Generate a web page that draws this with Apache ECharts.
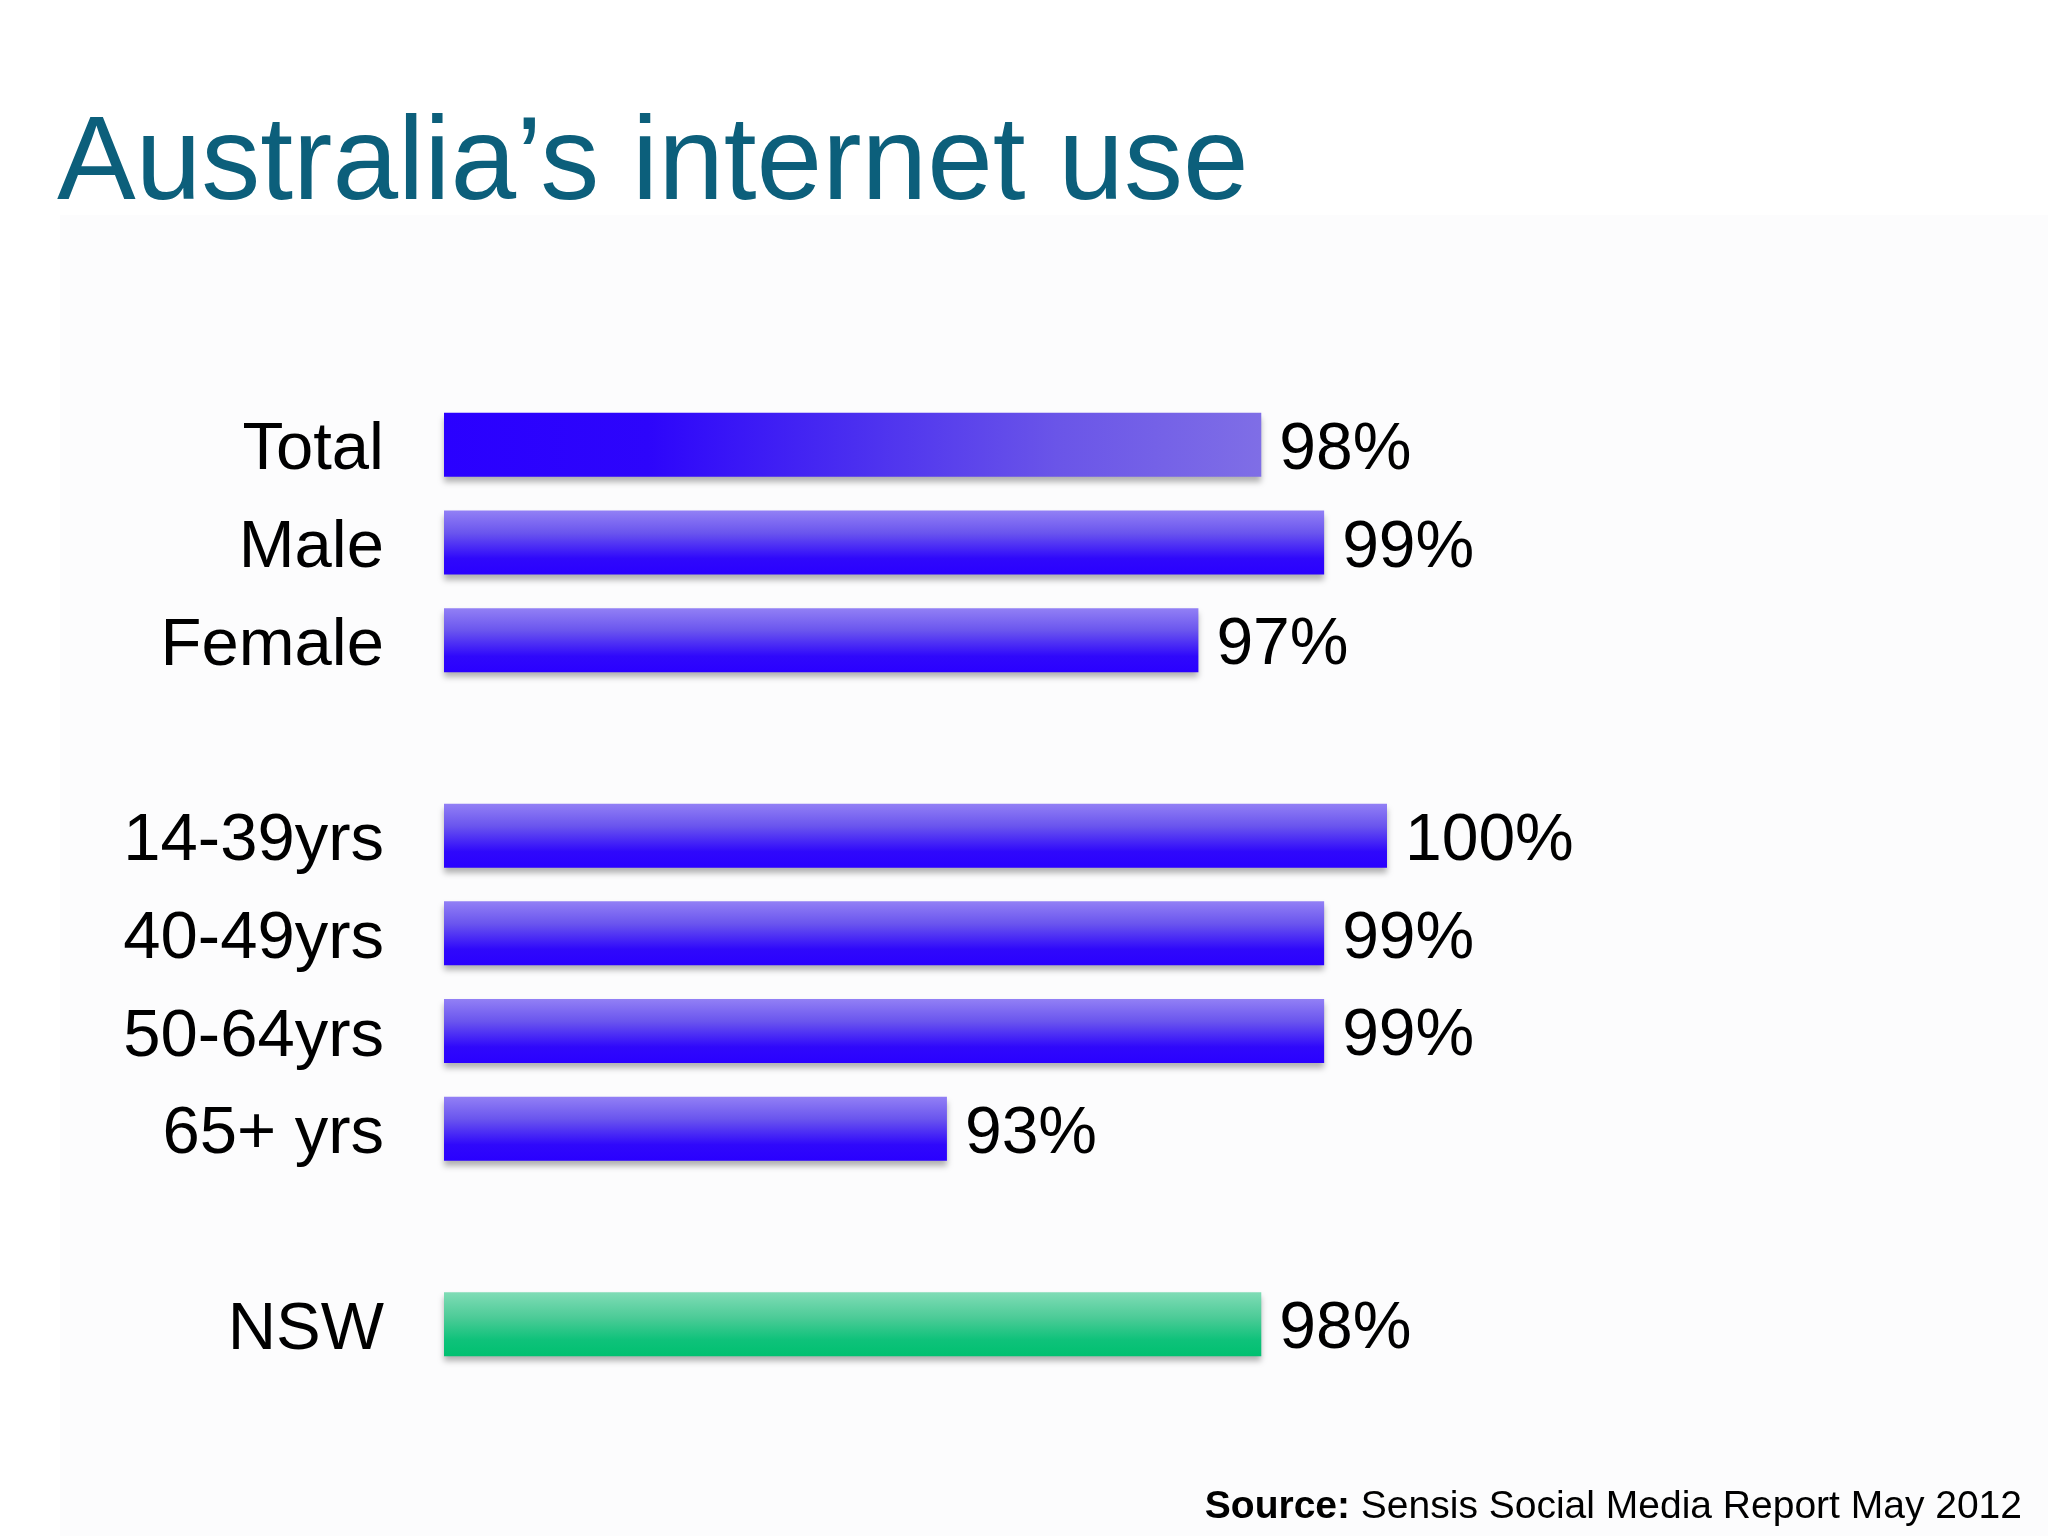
<!DOCTYPE html>
<html>
<head>
<meta charset="utf-8">
<script src="https://cdn.jsdelivr.net/npm/echarts@6/dist/echarts.min.js"></script>
<style>
  html, body { margin: 0; padding: 0; background: #fff; }
  #chart { width: 2048px; height: 1536px; }
</style>
</head>
<body>
<div id="chart"></div>
<script>
const categories = ["Total", "Male", "Female", "", "14-39yrs", "40-49yrs", "50-64yrs", "65+ yrs", "", "NSW"];
const values = [98, 99, 97, null, 100, 99, 99, 93, null, 98];
const axisMin = 85;
const axisMax = 100;

const blueFill = new echarts.graphic.LinearGradient(0, 0, 0, 1, [
  { offset: 0, color: "#9280f5" },
  { offset: 0.35, color: "#6a55ee" },
  { offset: 0.75, color: "#2f08fb" },
  { offset: 1, color: "#2a00ff" },
]);
const totalFill = new echarts.graphic.LinearGradient(0, 0, 1, 0, [
  { offset: 0, color: "#2a00ff" },
  { offset: 0.25, color: "#2d05fb" },
  { offset: 0.5, color: "#4a2ef0" },
  { offset: 0.75, color: "#6a55e8" },
  { offset: 1, color: "#7f6ee6" },
]);
const greenFill = new echarts.graphic.LinearGradient(0, 0, 0, 1, [
  { offset: 0, color: "#80dcb6" },
  { offset: 0.4, color: "#4ccb97" },
  { offset: 0.75, color: "#0ec27a" },
  { offset: 1, color: "#00c070" },
]);

function fillFor(name) {
  if (name === "Total") return totalFill;
  if (name === "NSW") return greenFill;
  return blueFill;
}

const chart = echarts.init(document.getElementById("chart"));
chart.setOption({
  backgroundColor: "#ffffff",
  animation: false,
  title: {
    text: "Australia\u2019s internet use",
    left: 52,
    top: 102,
    textStyle: {
      fontFamily: "Liberation Sans",
      fontSize: 118,
      fontWeight: "normal",
      color: "#0c5f7b",
    },
  },
  graphic: [
    {
      type: "rect",
      z: -10,
      shape: { x: 60, y: 215, width: 1988, height: 1321 },
      style: { fill: "#fcfcfd" },
    },
    {
      type: "text",
      right: 26,
      top: 1488,
      style: {
        rich: {
          b: { fontFamily: "Liberation Sans", fontSize: 39, fontWeight: "bold", fill: "#000" },
          n: { fontFamily: "Liberation Sans", fontSize: 39, fill: "#000" },
        },
        text: "{b|Source:}{n| Sensis Social Media Report May 2012}",
      },
    },
  ],
  grid: {
    left: 444,
    right: 661,
    top: 396,
    bottom: 163,
    containLabel: false,
  },
  xAxis: {
    type: "value",
    min: axisMin,
    max: axisMax,
    show: false,
  },
  yAxis: {
    type: "category",
    data: categories,
    inverse: true,
    axisLine: { show: false },
    axisTick: { show: false },
    axisLabel: {
      margin: 60,
      formatter: (v) => (v ? "{a|" + v + "}" : ""),
      rich: {
        a: {
          padding: [12, 0, 0, 0],
          fontFamily: "Liberation Sans",
          fontSize: 67,
          color: "#000",
        },
      },
    },
  },
  series: [
    {
      type: "bar",
      barWidth: 64,
      data: values.map((v, i) => ({
        value: v,
        itemStyle: {
          color: fillFor(categories[i]),
          shadowColor: "rgba(0,0,0,0.3)",
          shadowBlur: 6,
          shadowOffsetY: 5,
        },
      })),
      label: {
        show: true,
        position: "right",
        distance: 18,
        offset: [0, 6],
        formatter: "{c}%",
        fontFamily: "Liberation Sans",
        fontSize: 66,
        color: "#000",
      },
    },
  ],
});
</script>
</body>
</html>
